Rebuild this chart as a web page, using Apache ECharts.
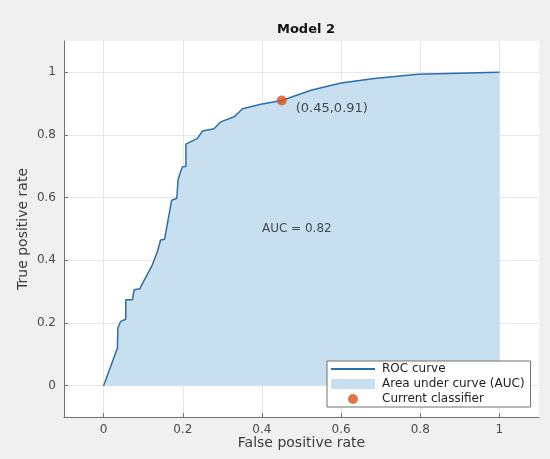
<!DOCTYPE html>
<html>
<head>
<meta charset="utf-8">
<script src="https://cdn.jsdelivr.net/npm/echarts@6/dist/echarts.min.js"></script>
<style>
  html, body { margin: 0; padding: 0; background: #f0f0f0; }
  #chart { width: 550px; height: 459px; }
</style>
</head>
<body>
<div id="chart"></div>
<script>
// ROC curve points
var fpr = [0, 0.035, 0.036, 0.043, 0.056, 0.056, 0.073, 0.077, 0.092, 0.094, 0.123, 0.136, 0.144, 0.154,
  0.172, 0.185, 0.188, 0.193, 0.199, 0.208, 0.208, 0.237, 0.25, 0.279, 0.296, 0.33, 0.351, 0.397,
  0.45, 0.524, 0.6, 0.684, 0.794, 0.92, 1];
var tpr = [0, 0.12, 0.184, 0.205, 0.212, 0.274, 0.274, 0.306, 0.309, 0.316, 0.385, 0.428, 0.465, 0.467,
  0.592, 0.598, 0.656, 0.677, 0.698, 0.7, 0.771, 0.789, 0.813, 0.82, 0.842, 0.858, 0.884, 0.898,
  0.91, 0.943, 0.966, 0.98, 0.994, 0.998, 1];
var classifier = [0.45, 0.91];
var aucText = "AUC = 0.82";
var aucPos = [0.4, 0.5];
var ticks = [0, 0.2, 0.4, 0.6, 0.8, 1];

var rocData = fpr.map(function (x, i) { return [x, tpr[i]]; });
var font = "DejaVu Sans";

var axisCommon = {
  type: "value",
  min: -0.1,
  max: 1.1,
  nameLocation: "middle",
  nameMoveOverlap: false,
  nameTextStyle: { color: "#3a3a3a", fontSize: 14, fontFamily: font },
  axisLine: { show: true, onZero: false, lineStyle: { color: "#707070", width: 1 } },
  axisTick: { show: true, inside: true, length: 4, customValues: ticks, lineStyle: { color: "#707070" } },
  axisLabel: { customValues: ticks, color: "#4a4a4a", fontSize: 12, fontFamily: font, margin: 7,
    formatter: function (v) { return String(Math.round(v * 10) / 10); } },
  splitLine: { show: true, lineStyle: { color: "#e6e6e6", width: 1 } }
};

var myChart = echarts.init(document.getElementById("chart"));
myChart.setOption({
  backgroundColor: "#f0f0f0",
  animation: false,
  title: {
    text: "Model 2",
    left: 301,
    textAlign: "center",
    top: 18,
    textStyle: { fontSize: 13, fontWeight: "bold", color: "#111", fontFamily: font }
  },
  grid: {
    left: 64, right: 11, top: 41, bottom: 42,
    show: true, backgroundColor: "#ffffff", borderWidth: 0
  },
  legend: {
    orient: "vertical",
    left: 327,
    top: 361,
    padding: [2, 6, 2, 4],
    itemGap: 3,
    itemWidth: 44,
    itemHeight: 10,
    backgroundColor: "#ffffff",
    borderColor: "#707070",
    borderWidth: 1,
    borderRadius: 0,
    textStyle: { fontSize: 12, color: "#222", fontFamily: font, padding: [0, 0, 0, 2] },
    data: [
      { name: "ROC curve", icon: "path://M0,0H44V2H0Z" },
      { name: "Area under curve (AUC)", icon: "rect" },
      { name: "Current classifier", icon: "circle" }
    ]
  },
  xAxis: Object.assign({}, axisCommon, { name: "False positive rate", nameGap: 19 }),
  yAxis: Object.assign({}, axisCommon, { name: "True positive rate", nameGap: 34,
    axisLabel: Object.assign({}, axisCommon.axisLabel, { margin: 8 }) }),
  series: [
    {
      name: "Area under curve (AUC)",
      type: "line",
      data: rocData,
      symbol: "none",
      lineStyle: { width: 0, opacity: 0 },
      itemStyle: { color: "#c8dff0" },
      areaStyle: { color: "#c8dff0", opacity: 1 },
      z: 1
    },
    {
      name: "ROC curve",
      type: "line",
      data: rocData,
      symbol: "none",
      lineStyle: { color: "#2a6fab", width: 1.5 },
      itemStyle: { color: "#2a6fab" },
      z: 2
    },
    {
      name: "Current classifier",
      type: "scatter",
      data: [classifier],
      symbolSize: 10,
      itemStyle: { color: "#d95319" },
      label: {
        show: true,
        position: "right",
        offset: [4, 8],
        formatter: function (p) { return "(" + p.value[0] + "," + p.value[1] + ")"; },
        color: "#222",
        fontSize: 13,
        fontFamily: font
      },
      z: 3
    },
    {
      name: "auc",
      type: "scatter",
      data: [aucPos],
      symbolSize: 0,
      silent: true,
      label: {
        show: true,
        position: "right",
        distance: 0,
        formatter: aucText,
        color: "#222",
        fontSize: 12,
        fontFamily: font
      },
      z: 3
    }
  ]
});
</script>
</body>
</html>
